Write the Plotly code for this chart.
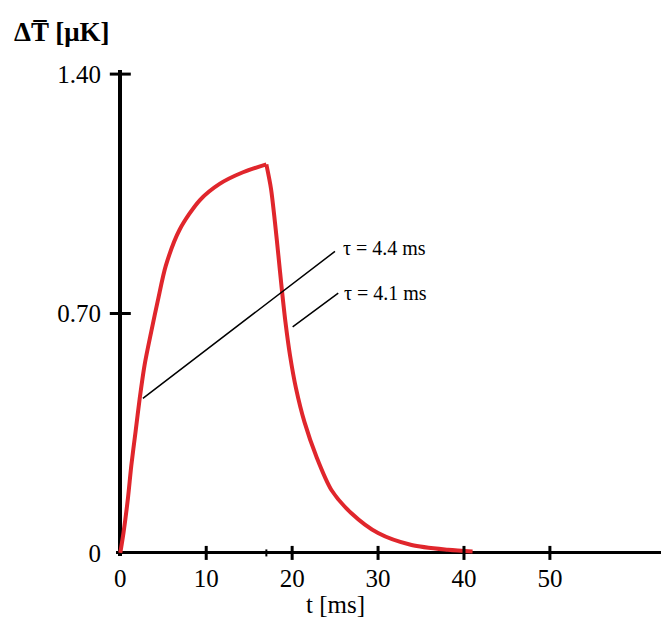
import plotly.graph_objects as go

# ---- data ----
rise_t = [0, 0.38, 0.89, 1.28, 1.78, 2.25, 2.83, 3.61, 4.38, 5.3, 6.9, 9.24, 11.56, 14.28, 17.0]
rise_y = [0, 0.06, 0.16, 0.255, 0.355, 0.45, 0.55, 0.648, 0.739, 0.84, 0.945, 1.031, 1.079, 1.113, 1.136]
decay_t = [17.0, 17.54, 18.0, 18.4, 18.79, 19.22, 19.75, 20.45, 21.43, 22.83, 24.57, 26.9, 30.0, 33.9, 38.15, 41.0]
decay_y = [1.136, 1.065, 0.967, 0.870, 0.773, 0.675, 0.578, 0.481, 0.383, 0.281, 0.184, 0.116, 0.058, 0.023, 0.009, 0.004]

x_tick_vals = [0, 10, 20, 30, 40, 50]
x_tick_text = ["0", "10", "20", "30", "40", "50"]
y_tick_vals = [0, 0.70, 1.40]
y_tick_text = ["0", "0.70", "1.40"]
pulse_end = [17.0]

tau_rise_label = "τ = 4.4 ms"
tau_decay_label = "τ = 4.1 ms"
rise_point = (2.63, 0.452)
rise_tail = (25.16, 0.885)
decay_point = (20.06, 0.661)
decay_tail = (25.54, 0.763)

RED = "#e0262c"
FONT = "Liberation Serif"

fig = go.Figure()

fig.add_trace(go.Scatter(x=rise_t, y=rise_y, mode="lines",
                         line=dict(color=RED, width=4, shape="spline", smoothing=0.8),
                         showlegend=False, hoverinfo="skip"))
fig.add_trace(go.Scatter(x=decay_t, y=decay_y, mode="lines",
                         line=dict(color=RED, width=4, shape="spline", smoothing=0.8),
                         showlegend=False, hoverinfo="skip"))

# tick marks crossing the axes
fig.add_trace(go.Scatter(x=x_tick_vals[1:], y=[0] * (len(x_tick_vals) - 1), mode="markers",
                         marker=dict(symbol="line-ns", size=10, line=dict(color="black", width=3)),
                         cliponaxis=False, showlegend=False, hoverinfo="skip"))
fig.add_trace(go.Scatter(x=pulse_end, y=[0], mode="markers",
                         marker=dict(symbol="line-ns", size=5, line=dict(color="black", width=2)),
                         cliponaxis=False, showlegend=False, hoverinfo="skip"))
fig.add_trace(go.Scatter(x=[0] * (len(y_tick_vals) - 1), y=y_tick_vals[1:], mode="markers",
                         marker=dict(symbol="line-ew", size=15, line=dict(color="black", width=3)),
                         cliponaxis=False, showlegend=False, hoverinfo="skip"))

fig.update_xaxes(range=[-0.5, 62.93], showgrid=False, zeroline=True, zerolinecolor="black",
                 zerolinewidth=4, showline=False, tickvals=x_tick_vals, ticktext=x_tick_text,
                 ticks="", ticklabelstandoff=5,
                 tickfont=dict(family=FONT, size=25, color="black"))
fig.update_yaxes(range=[-0.009, 1.412], showgrid=False, zeroline=True, zerolinecolor="black",
                 zerolinewidth=3, showline=False, tickvals=y_tick_vals, ticktext=y_tick_text,
                 ticks="", ticklabelstandoff=14,
                 tickfont=dict(family=FONT, size=25, color="black"))

annotations = [
    dict(x=rise_point[0], y=rise_point[1], ax=rise_tail[0], ay=rise_tail[1],
         xref="x", yref="y", axref="x", ayref="y", text="", showarrow=True,
         arrowhead=0, arrowwidth=1.5, arrowcolor="black"),
    dict(x=decay_point[0], y=decay_point[1], ax=decay_tail[0], ay=decay_tail[1],
         xref="x", yref="y", axref="x", ayref="y", text="", showarrow=True,
         arrowhead=0, arrowwidth=1.5, arrowcolor="black"),
    dict(x=rise_tail[0] + 0.55, y=rise_tail[1] + 0.008, xref="x", yref="y", text=tau_rise_label,
         showarrow=False, xanchor="left", yanchor="middle",
         font=dict(family=FONT, size=20, color="black")),
    dict(x=decay_tail[0] + 0.25, y=decay_tail[1] - 0.004, xref="x", yref="y", text=tau_decay_label,
         showarrow=False, xanchor="left", yanchor="middle",
         font=dict(family=FONT, size=20, color="black")),
    dict(x=0.403, y=-0.1008, xref="paper", yref="paper", text="t [ms]", showarrow=False,
         xanchor="center", yanchor="middle", font=dict(family=FONT, size=25, color="black")),
    dict(x=-0.19, y=1.078, xref="paper", yref="paper", text="<b>ΔT\u0305 [μK]</b>", showarrow=False,
         xanchor="left", yanchor="middle", font=dict(family=FONT, size=27, color="black")),
]

fig.update_layout(width=661, height=621, margin=dict(l=116.4, r=0, t=70, b=65),
                  paper_bgcolor="white", plot_bgcolor="white", annotations=annotations)

fig.write_html("out.html")
